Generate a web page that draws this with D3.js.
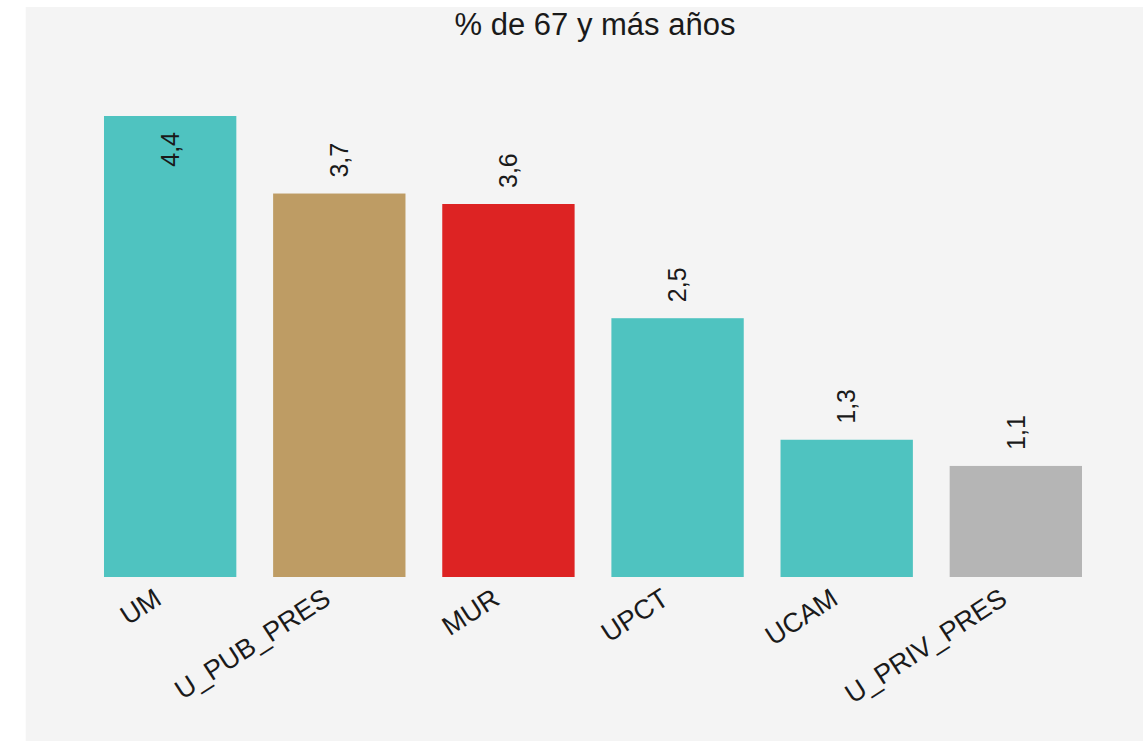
<!DOCTYPE html>
<html>
<head>
<meta charset="utf-8">
<script src="https://cdn.jsdelivr.net/npm/d3@7"></script>
<style>
  html, body { margin: 0; padding: 0; background: #ffffff; }
  svg { display: block; font-family: "Liberation Sans", Arial, sans-serif; }
</style>
</head>
<body>
<svg id="chart" width="1143" height="741"></svg>
<script>
const categories = ["UM", "U_PUB_PRES", "MUR", "UPCT", "UCAM", "U_PRIV_PRES"];
const values = [4.4, 3.66, 3.56, 2.47, 1.31, 1.06];
const barColors = ["#4FC3C0", "#BE9C64", "#DD2323", "#4FC3C0", "#4FC3C0", "#B5B5B5"];
const title = "% de 67 y más años";

const W = 1143, H = 741;
const svg = d3.select("#chart");

svg.append("rect")
  .attr("x", 25.67).attr("y", 7)
  .attr("width", W - 25.67).attr("height", H - 7)
  .attr("fill", "#f4f4f4");

const x = d3.scaleBand()
  .domain(categories)
  .range([85.6, 1100.4])
  .paddingInner(0.2175)
  .paddingOuter(0.10875);

const y = d3.scaleLinear()
  .domain([0, 4.4])
  .range([577, 116]);

const data = categories.map((c, i) => ({ cat: c, val: values[i], color: barColors[i] }));

svg.append("g").selectAll("rect")
  .data(data)
  .join("rect")
  .attr("x", d => x(d.cat))
  .attr("y", d => y(d.val))
  .attr("width", x.bandwidth())
  .attr("height", d => y(0) - y(d.val))
  .attr("fill", d => d.color);

const fmt = v => d3.format(".1f")(v).replace(".", ",");
const maxVal = d3.max(values);

svg.append("g").selectAll("text")
  .data(data)
  .join("text")
  .attr("transform", d => {
    const cx = x(d.cat) + x.bandwidth() / 2;
    const inside = d.val === maxVal;
    const yy = inside ? y(d.val) + 16 : y(d.val) - 16;
    return `translate(${cx},${yy}) rotate(-90)`;
  })
  .attr("text-anchor", d => d.val === maxVal ? "end" : "start")
  .attr("dy", "0.35em")
  .attr("font-size", 25)
  .attr("fill", "#1a1a1a")
  .text(d => fmt(d.val));

// x axis tick labels
const xAxis = d3.axisBottom(x).tickSize(0).tickPadding(0);
const gx = svg.append("g")
  .attr("transform", `translate(0,${y(0)})`)
  .call(xAxis);
gx.select(".domain").remove();
gx.selectAll("text")
  .attr("font-size", 27)
  .attr("font-family", "Liberation Sans, Arial, sans-serif")
  .attr("fill", "#1a1a1a")
  .attr("text-anchor", "end")
  .attr("dy", null)
  .attr("y", null)
  .attr("transform", "translate(-7,26) rotate(-33)");

svg.append("text")
  .attr("x", 595)
  .attr("y", 35)
  .attr("text-anchor", "middle")
  .attr("font-size", 31)
  .attr("fill", "#1a1a1a")
  .text(title);
</script>
</body>
</html>
